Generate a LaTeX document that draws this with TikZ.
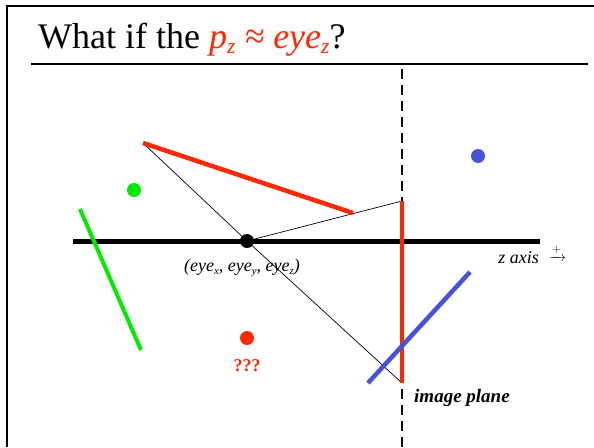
\documentclass[tikz,border=0pt]{standalone}
\usepackage{amsmath}
\usepackage{fontspec}
\setmainfont{Liberation Serif}
\usetikzlibrary{positioning}
\definecolor{cRed}{RGB}{255,40,0}
\definecolor{cBlue}{RGB}{70,82,215}
\definecolor{cGreen}{RGB}{0,235,0}
\tikzset{
    seg/.style    ={line width=4.5pt},
    ray/.style    ={line width=0.7pt},
    dot/.style    ={circle, inner sep=0pt, minimum size=14pt},
    lbl/.style    ={inner sep=0pt, font=\fontsize{18}{20}\selectfont\itshape},
}
\newcommand{\lowsub}[1]{\raisebox{-0.35ex}{\fontsize{0.6em}{1em}\selectfont #1}}

\begin{document}
\begin{tikzpicture}[x=1pt, y=-1pt]
        \useasboundingbox (0,0) rectangle (594,447);
        % frame and title
        \draw[line width=2pt] (7,447) -- (7,6) -- (594,6);
        \node[anchor=base west, inner sep=0pt, font=\fontsize{36}{40}\selectfont] (title) at (38,48)
            {What if the {\color{cRed}\itshape p\lowsub{z} ≈ eye\lowsub{z}}?};
        \draw[line width=2pt] (31,64) -- (588,64);
        % image plane and z axis
        \coordinate (planeTop) at (402,69);
        \coordinate (planeBot) at (402,447);
        \draw[line width=2pt, dash pattern=on 10pt off 6pt] (planeTop) -- (planeBot);
        \coordinate (axisL) at (73,241);
        \coordinate (axisR) at (540,241);
        \draw[line width=5pt] (axisL) -- (axisR);
        \node[dot, fill=black] (eye) at (247,241) {};
        % projections through the eye
        \coordinate (redA) at (143,143);
        \coordinate (redB) at (353,213);
        \coordinate (imgTop) at (402,201);
        \coordinate (imgBot) at (402,383);
        \draw[ray] (redA) -- (eye.center) -- (imgBot);
        \draw[ray] (eye.center) -- (imgTop);
        % objects
        \draw[seg, cRed] (redA) -- (redB);
        \draw[seg, cRed, line width=4pt] (imgTop) -- (imgBot);
        \coordinate (greenA) at (80,209);
        \coordinate (greenB) at (141,350);
        \draw[seg, cGreen, line width=4pt] (greenA) -- (greenB);
        \coordinate (blueA) at (470,272);
        \coordinate (blueB) at (368,383);
        \draw[seg, cBlue] (blueA) -- (blueB);
        \node[dot, fill=cGreen] (greenDot) at (134,190) {};
        \node[dot, fill=cBlue] (blueDot) at (478,156) {};
        \node[dot, fill=cRed] (redDot) at (247,338) {};
        % labels
        \node[lbl] (eyeLbl) at (242,268) {(eye\lowsub{x}, eye\lowsub{y}, eye\lowsub{z})};
        \node[lbl, anchor=base east] (zLbl) at (539,263) {z axis};
        \node[inner sep=0pt, anchor=base west, font=\fontsize{15}{18}\selectfont] (zDir) at (549,261) {$\xrightarrow{+}$};
        \node[lbl, font=\fontsize{19}{22}\selectfont\bfseries\itshape, anchor=base west] (planeLbl) at (414,402) {image plane};
        \node[inner sep=0pt, text=cRed, font=\fontsize{18}{20}\selectfont\bfseries] (qLbl) at (247,366) {???};
    \end{tikzpicture}
\end{document}
